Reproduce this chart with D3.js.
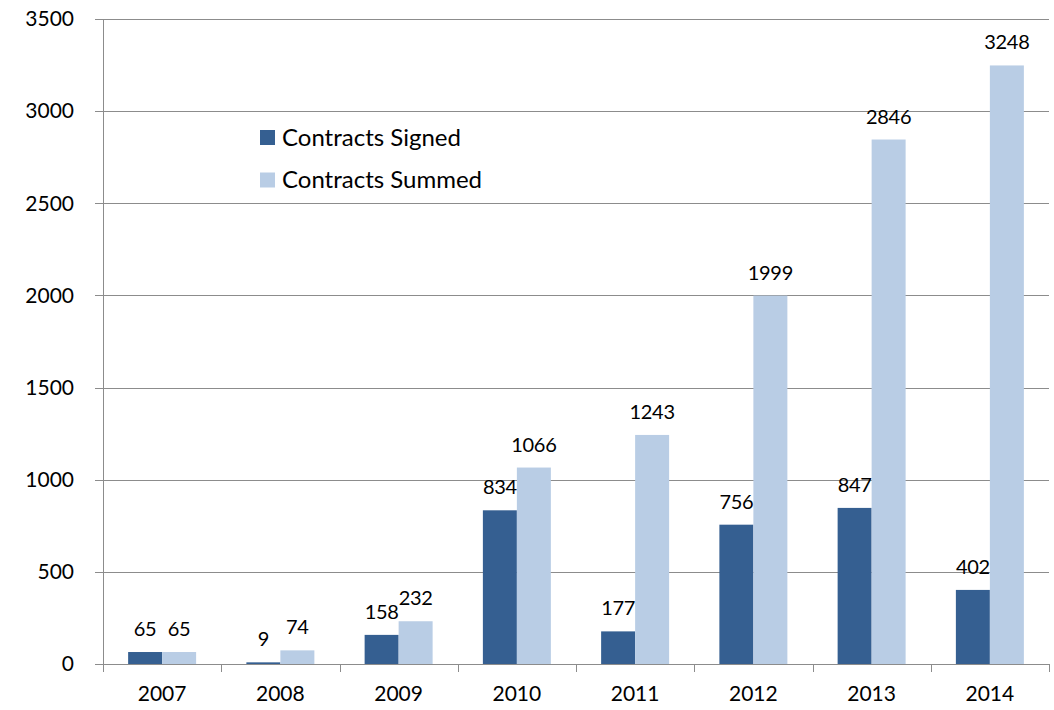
<!DOCTYPE html>
<html>
<head>
<meta charset="utf-8">
<script src="https://cdn.jsdelivr.net/npm/d3@7"></script>
<style>
  html, body { margin: 0; padding: 0; background: #fff; }
  svg text { font-family: Lato, "Open Sans", sans-serif; fill: #000; }
</style>
</head>
<body>
<svg id="chart" width="1054" height="710"></svg>
<script>
// Yearly contract counts
const years = ["2007", "2008", "2009", "2010", "2011", "2012", "2013", "2014"];
const signed = [65, 9, 158, 834, 177, 756, 847, 402];
const summed = [65, 74, 232, 1066, 1243, 1999, 2846, 3248];
const seriesNames = ["Contracts Signed", "Contracts Summed"];
const seriesColors = ["#355f91", "#b9cde5"];
const yTicks = [0, 500, 1000, 1500, 2000, 2500, 3000, 3500];

const svg = d3.select("#chart");
const m = { left: 103, right: 1049, top: 19, bottom: 664 };

const x = d3.scaleBand().domain(years).range([m.left, m.right]).paddingInner(0).paddingOuter(0);
const y = d3.scaleLinear().domain([0, 3500]).range([m.bottom, m.top]);
const groupW = x.bandwidth() * 0.575;
const sub = d3.scaleBand().domain([0, 1]).range([0, groupW]);

const axisColor = "#8c8c8c";
const fs = 21;

// horizontal gridlines with outward ticks
svg.append("g").selectAll("line").data(yTicks).join("line")
  .attr("x1", m.left - 8).attr("x2", m.right)
  .attr("y1", d => Math.round(y(d)) + 0.5).attr("y2", d => Math.round(y(d)) + 0.5)
  .attr("stroke", axisColor).attr("stroke-width", 1);

// y tick labels
svg.append("g").selectAll("text").data(yTicks).join("text")
  .attr("x", 74).attr("y", d => y(d)).attr("dy", "0.35em")
  .attr("text-anchor", "end").attr("font-size", fs).text(d => d);

// bars
const rows = years.map((yr, i) => ({ yr, vals: [signed[i], summed[i]] }));
const groups = svg.append("g").selectAll("g").data(rows).join("g")
  .attr("transform", d => `translate(${x(d.yr) + (x.bandwidth() - groupW) / 2},0)`);

groups.selectAll("rect").data(d => d.vals.map((v, k) => ({ v, k }))).join("rect")
  .attr("x", d => sub(d.k)).attr("width", sub.bandwidth())
  .attr("y", d => y(d.v)).attr("height", d => y(0) - y(d.v))
  .attr("fill", d => seriesColors[d.k]);

// value labels
groups.selectAll("text").data(d => d.vals.map((v, k) => ({ v, k }))).join("text")
  .attr("x", d => sub(d.k) + sub.bandwidth() / 2)
  .attr("y", d => y(d.v) - 16)
  .attr("text-anchor", "middle").attr("font-size", 20)
  .attr("letter-spacing", "-0.3px").text(d => d.v);

// left axis line and x axis with ticks
svg.append("line").attr("x1", m.left + 0.5).attr("x2", m.left + 0.5)
  .attr("y1", m.top).attr("y2", m.bottom + 8).attr("stroke", axisColor);
const xTickPos = years.map(yr => x(yr)).concat([m.right]);
svg.append("g").selectAll("line").data(xTickPos).join("line")
  .attr("x1", d => Math.round(d) + 0.5).attr("x2", d => Math.round(d) + 0.5)
  .attr("y1", m.bottom).attr("y2", m.bottom + 8).attr("stroke", axisColor);

// category labels
svg.append("g").selectAll("text").data(years).join("text")
  .attr("x", d => x(d) + x.bandwidth() / 2).attr("y", 694).attr("dy", "0.35em")
  .attr("text-anchor", "middle").attr("font-size", fs).text(d => d);

// legend
const legend = svg.append("g").selectAll("g").data(seriesNames).join("g")
  .attr("transform", (d, i) => `translate(260,${137.5 + i * 42.5})`);
legend.append("rect").attr("x", 0).attr("y", -7.5).attr("width", 15).attr("height", 15)
  .attr("fill", (d, i) => seriesColors[i]);
legend.append("text").attr("x", 22).attr("y", 0).attr("dy", "0.35em")
  .attr("font-size", 24).text(d => d);
</script>
</body>
</html>
